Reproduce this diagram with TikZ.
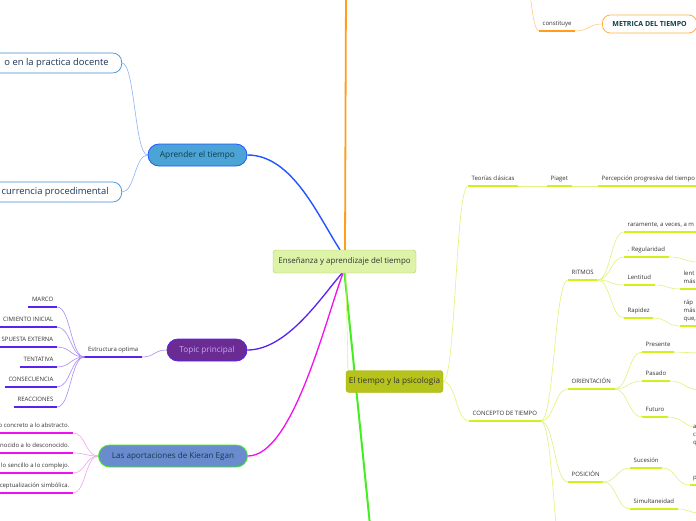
\documentclass[tikz,border=0pt]{standalone}
\usepackage{fontspec}
\setmainfont{Open Sans}
\usetikzlibrary{calc}
\definecolor{orl}{HTML}{FF9E1B}
\definecolor{orlt}{HTML}{FFCB86}
\definecolor{bll}{HTML}{2255FF}
\definecolor{bllt}{HTML}{8DB4F5}
\definecolor{pul}{HTML}{5A22EE}
\definecolor{pult}{HTML}{AC8CF7}
\definecolor{mgl}{HTML}{EE11EE}
\definecolor{mglt}{HTML}{F4A2F4}
\definecolor{grl}{HTML}{44EE22}
\definecolor{ygl}{HTML}{E2F27C}
\definecolor{ygu}{HTML}{D3F01E}
\definecolor{txt}{HTML}{333333}
\definecolor{teal}{HTML}{0E3D4A}
\definecolor{cenfill}{HTML}{DDF3A8}
\definecolor{cendraw}{HTML}{A8D060}
\definecolor{aprfill}{HTML}{4BA3D6}
\definecolor{topfill}{HTML}{6A2C92}
\definecolor{toptxt}{HTML}{C9A6F2}
\definecolor{kiefill}{HTML}{6A8CCF}
\definecolor{epfill}{HTML}{B6C31B}
\definecolor{epdraw}{HTML}{A4B217}
\definecolor{boxdraw}{HTML}{3D8FD0}
\definecolor{boxtxt}{HTML}{1D3557}
\pgfdeclarelayer{background}
\pgfsetlayers{background,main}
\newcommand\conn[3][]{\path (#2) -- coordinate[pos=.5](cm) (#3); \draw[#1] (#2) .. controls (cm |- #2) and (cm |- #3) .. (#3);}
\begin{document}
\begin{tikzpicture}[x=1pt,y=-1pt,
  lab/.style={font=\fontsize{6}{8}\selectfont, text=txt, inner xsep=3.5pt, inner ysep=3.6pt, text height=4.3pt, text depth=1.3pt, align=left},
  big/.style={inner sep=0pt, align=center},
  lbox/.style={font=\fontsize{9.4}{11}\selectfont, text=boxtxt, draw=boxdraw, fill=white, rounded corners=9pt, inner xsep=13pt, minimum height=20pt, anchor=east, line width=0.7pt},
  ygc/.style={ygl, line width=0.6pt},
  ygd/.style={ygu, line width=1.6pt},
  puc/.style={pult, line width=0.6pt},
  pud/.style={pul, line width=1.4pt},
  mgc/.style={mglt, line width=0.6pt},
  mgd/.style={mgl, line width=1.4pt},
  blc/.style={bllt, line width=0.6pt}]
\useasboundingbox (0,0) rectangle (696,520);

% ---------- main nodes
\node[big, font=\fontsize{7.9}{9}\selectfont, draw=cendraw, fill=cenfill, rounded corners=3pt, minimum width=143pt, minimum height=23pt, text=txt] (cen) at (344.5,261.5) {Enseñanza y aprendizaje del tiempo};
\node[big, font=\fontsize{8.3}{9}\selectfont, draw=bll, fill=aprfill, line width=0.8pt, rounded corners=11pt, minimum width=99pt, minimum height=22pt, text=teal] (apr) at (197.5,155) {Aprender el tiempo};
\node[big, font=\fontsize{8.2}{9}\selectfont, draw=pul, fill=topfill, line width=0.8pt, rounded corners=11pt, minimum width=80pt, minimum height=22pt, text=toptxt] (top) at (207,350) {Topic principal};
\node[big, font=\fontsize{8.1}{9}\selectfont, draw=grl, fill=kiefill, line width=0.8pt, rounded corners=11pt, minimum width=149pt, minimum height=22pt, text=teal] (kie) at (173,456) {Las aportaciones de Kieran Egan};
\node[big, font=\fontsize{8.2}{10}\selectfont, draw=epdraw, fill=epfill, rounded corners=3pt, minimum width=97pt, minimum height=22pt, text=txt] (ep) at (394.5,381.5) {El tiempo y la psicologia};

% ---------- blue branch children
\node[lbox] (pd) at (122,63) {o en la practica docente};
\node[lbox] (pc) at (122,192) {currencia procedimental};

% ---------- orange branch
\coordinate (otop) at (346,-10);
\coordinate (osrc) at (521,-45);
\node[lab, anchor=south west] (cst) at (539,31) {constituye};
\node[font=\fontsize{7}{9}\selectfont\bfseries, text=teal, draw=orl!80!white, fill=white, rounded corners=8pt, inner xsep=10pt, minimum height=18pt, anchor=west, line width=0.8pt] (met) at (602,24) {METRICA DEL TIEMPO};

% ---------- purple branch
\node[lab, anchor=south east] (est) at (142,357) {Estructura optima};
\node[lab, anchor=south east] (p1) at (57,307) {MARCO};
\node[lab, anchor=south east] (p2) at (57,327) {CIMIENTO INICIAL};
\node[lab, anchor=south east] (p3) at (57,347) {SPUESTA EXTERNA};
\node[lab, anchor=south east] (p4) at (57,367) {TENTATIVA};
\node[lab, anchor=south east] (p5) at (57,387) {CONSECUENCIA};
\node[lab, anchor=south east] (p6) at (57,407) {REACCIONES};

% ---------- magenta branch
\node[lab, anchor=south east] (k1) at (73,433) {o concreto a lo abstracto.};
\node[lab, anchor=south east] (k2) at (73,453) {nocido a lo desconocido.};
\node[lab, anchor=south east] (k3) at (73,473) {lo sencillo a lo complejo.};
\node[lab, anchor=south east] (k4) at (73,493) {ceptualización simbólica.};

% ---------- yellow-green branch
\node[lab, anchor=south west] (teo) at (468,186) {Teorías clásicas};
\node[lab, anchor=south west] (pia) at (547,186) {Piaget};
\node[lab, anchor=south west] (per) at (598,186) {Percepción progresiva del tiempo};
\node[lab, anchor=south west] (con) at (469,421) {CONCEPTO DE TIEMPO};
\node[lab, anchor=south west] (rit) at (568,280) {RITMOS};
\node[lab, anchor=south west] (ori) at (568,389) {ORIENTACIÓN};
\node[lab, anchor=south west] (pos) at (568,482) {POSICIÓN};
\node[lab, anchor=south west] (rar) at (624,232) {raramente, a veces, a m};
\node[lab, anchor=south west] (reg) at (624,257) {. Regularidad};
\node[lab, anchor=south west] (len) at (624,285) {Lentitud};
\node[lab, anchor=south west] (rap) at (624,318) {Rapidez};
\node[lab, anchor=south west] (len2) at (680,289) {lent\\más};
\node[lab, anchor=south west] (rap2) at (680,326) {ráp\\más\\que,};
\node[lab, anchor=south west] (pre) at (642,352) {Presente};
\node[lab, anchor=south west] (pas) at (642,381) {Pasado};
\node[lab, anchor=south west] (fut) at (642,417) {Futuro};
\node[lab, anchor=south west] (suc) at (630,468) {Sucesión};
\node[lab, anchor=south west] (sim) at (630,509) {Simultaneidad};
\node[lab, anchor=north west, inner ysep=0pt] (acq) at (689.5,440) {a\\c\\q};
\node[lab, anchor=south west] (suc2) at (689.5,485) {p};
\coordinate (regx) at (700,262);
\coordinate (prex) at (700,353);
\coordinate (pasx) at (700,390);
\coordinate (futx) at (700,428);
\coordinate (simx) at (700,513);
\coordinate (conx) at (568,590);
\coordinate (rarx) at (700,232);
\coordinate (perx) at (700,186);

\begin{pgfonlayer}{background}
\fill[white] (0,0) rectangle (696,520);
% main branches
\draw[orl, line width=1.8pt] ($(cen.north)+(0.5,0)$) -- (otop);
\draw[bll, line width=1.4pt] (apr.east) .. controls +(45,0) and (318,216) .. ($(cen.north)+(-4.5,0)$);
\draw[pul, line width=1.3pt] (top.east) .. controls +(40,0) and (322,296) .. ($(cen.south)+(-2.5,0)$);
\draw[mgl, line width=1.3pt] (kie.east) .. controls +(45,0) and (326,318) .. ($(cen.south)+(-1.5,0)$);
\draw[grl, line width=2pt] ($(cen.south)+(0,0)$) -- (370.5,530);
\draw[ygc] ($(cen.south)+(1.5,0)$) .. controls +(0,40) and +(0,-40) .. ($(ep.north west)+(2,0)$);
% blue children
\conn[blc]{apr.west}{pd.east}
\conn[blc]{apr.west}{pc.east}
% orange children
\conn[orlt, line width=0.6pt]{osrc}{cst.south west}
\draw[orl, line width=1.4pt] (cst.south west) -- (cst.south east);
\conn[orlt, line width=0.6pt]{cst.south east}{met.west}
% purple children
\conn[puc]{top.west}{est.south east}
\draw[pud] (est.south west) -- (est.south east);
\foreach \n in {p1,p2,p3,p4,p5,p6}{
  \conn[puc]{est.south west}{\n.south east}
  \draw[pud] (\n.south west) -- (\n.south east);
}
% magenta children
\foreach \n in {k1,k2,k3,k4}{
  \conn[mgc]{kie.west}{\n.south east}
  \draw[mgd] (\n.south west) -- (\n.south east);
}
% yellow-green children
\conn[ygc]{ep.east}{teo.south west}
\conn[ygc]{ep.east}{con.south west}
\conn[ygc]{teo.south east}{pia.south west}
\conn[ygc]{pia.south east}{per.south west}
\conn[ygc]{con.south east}{rit.south west}
\conn[ygc]{con.south east}{ori.south west}
\conn[ygc]{con.south east}{pos.south west}
\conn[ygc]{con.south east}{conx}
\conn[ygc]{rit.south east}{rar.south west}
\conn[ygc]{rit.south east}{reg.south west}
\conn[ygc]{rit.south east}{len.south west}
\conn[ygc]{rit.south east}{rap.south west}
\conn[ygc]{reg.south east}{regx}
\conn[ygc]{len.south east}{len2.south west}
\conn[ygc]{rap.south east}{rap2.south west}
\conn[ygc]{ori.south east}{pre.south west}
\conn[ygc]{ori.south east}{pas.south west}
\conn[ygc]{ori.south east}{fut.south west}
\conn[ygc]{pre.south east}{prex}
\conn[ygc]{pas.south east}{pasx}
\conn[ygc]{fut.south east}{futx}
\conn[ygc]{pos.south east}{suc.south west}
\conn[ygc]{pos.south east}{sim.south west}
\conn[ygc]{suc.south east}{suc2.south west}
\conn[ygc]{sim.south east}{simx}
\foreach \n in {teo,pia,con,rit,ori,pos,reg,len,rap,len2,rap2,pre,pas,fut,suc,sim,suc2}{
  \draw[ygd] (\n.south west) -- (\n.south east);
}
\draw[ygd] (rar.south west) -- (rarx);
\draw[ygd] (per.south west) -- (perx);
\end{pgfonlayer}
\end{tikzpicture}
\end{document}
